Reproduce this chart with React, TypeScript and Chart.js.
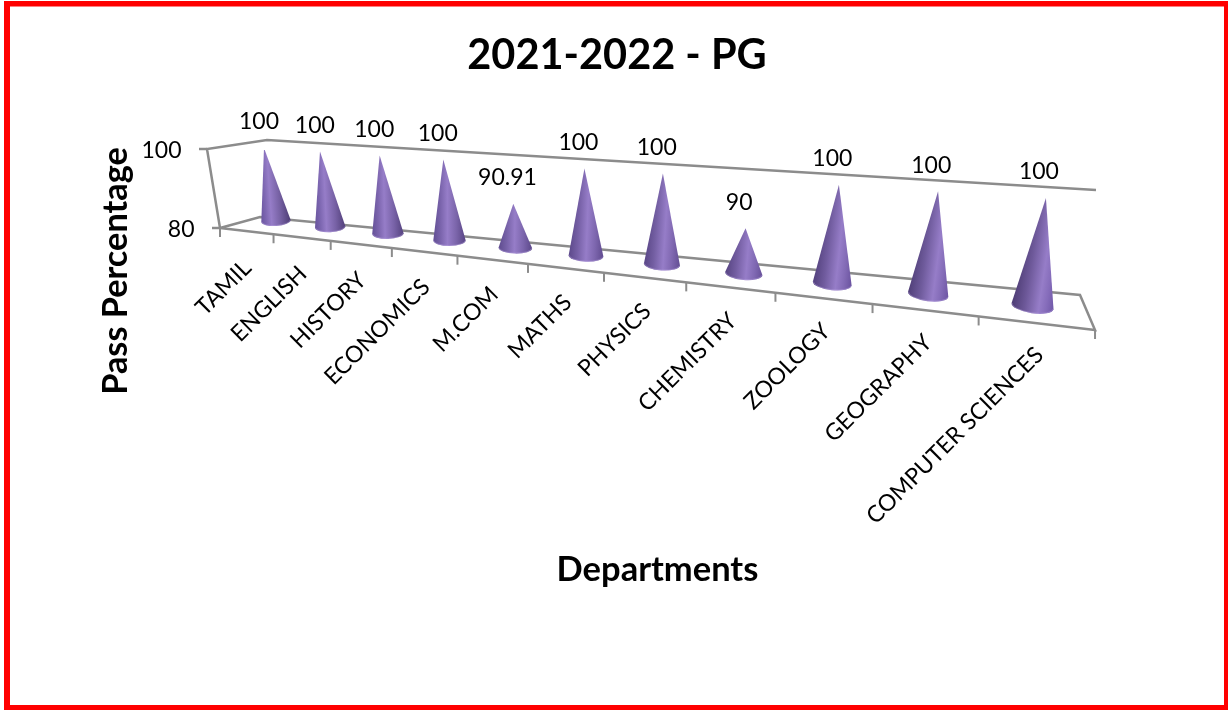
import React, { useEffect, useRef } from "react";
import { Chart, registerables, BarController, BarElement } from "chart.js";

const departments = ["TAMIL", "ENGLISH", "HISTORY", "ECONOMICS", "M.COM", "MATHS", "PHYSICS", "CHEMISTRY", "ZOOLOGY", "GEOGRAPHY", "COMPUTER SCIENCES"];
const passPercentage = [100, 100, 100, 100, 90.91, 100, 100, 90, 100, 100, 100];
const valueLabels = ["100", "100", "100", "100", "90.91", "100", "100", "90", "100", "100", "100"];
const yMin = 80;
const yMax = 100;
const yStep = 20;

const FONT = "Lato, 'Open Sans', sans-serif";
const GREY = "#8c8c8c";

// Perspective projection of the chart's logical plot onto the tilted 3D view.
const persp = (t: number) => 1 - 0.03057 * t;
const conePoint = (t: number, rawV: number) => {
  const v = rawV - 0.08 * rawV * (1 - rawV);
  const w = persp(t);
  const bx = (44.09 * t + 276) / w;
  const by = (-0.85 * t + 221) / w;
  const tx = (46.22 * t + 264) / w;
  const ty = (-1.05 * t + 148) / w;
  return { x: bx + (tx - bx) * v, y: by + (ty - by) * v };
};
const frontX = (e: number) => (44.88 * e + 220) / (1 - 0.03166 * e);
const frontY = (x: number) => 228 + (x - 220) * 0.1166;

const mix = (a: number[], b: number[], k: number) =>
  `rgb(${a.map((c, i) => Math.round(c + (b[i] - c) * k)).join(",")})`;

class ConeElement extends BarElement {
  static id = "cone";
  static defaults = { ...BarElement.defaults };
  draw(ctx: CanvasRenderingContext2D, area: any) {
    const self = this as any;
    const n = departments.length;
    const t = ((self.x - area.left) / area.width) * n - 0.5;
    const v = (area.bottom - self.y) / area.height;
    const w = persp(t);
    const base = conePoint(t, 0);
    const tip = conePoint(t, v);
    const rx = self.width / 2 / w;
    const ry = (self.width * 0.17) / w;
    const rot = -0.07 + 0.022 * t;
    const lx = base.x - rx * Math.cos(rot);
    const ly = base.y - rx * Math.sin(rot);
    const hx = base.x + rx * Math.cos(rot);
    const hy = base.y + rx * Math.sin(rot);
    const k = t / (n - 1);
    const peak = 0.35 + 0.3 * k;
    const light = [150, 125, 200];
    const leftEdge = [106, 85, 160].map((c, i) => c + ([77, 60, 116][i] - c) * k);
    const rightEdge = [77, 60, 116].map((c, i) => c + ([112, 88, 168][i] - c) * k);
    const g = ctx.createLinearGradient(lx, ly, hx, hy);
    g.addColorStop(0, mix(leftEdge, leftEdge, 0));
    g.addColorStop(peak * 0.5, mix(leftEdge, light, 0.45));
    g.addColorStop(peak, mix(light, light, 0));
    g.addColorStop((1 + peak) / 2, mix(rightEdge, light, 0.55));
    g.addColorStop(1, mix(rightEdge, rightEdge, 0));
    ctx.save();
    ctx.beginPath();
    ctx.moveTo(tip.x, tip.y);
    ctx.lineTo(lx, ly);
    ctx.ellipse(base.x, base.y, rx, ry, rot, Math.PI, 0, true);
    ctx.closePath();
    ctx.fillStyle = g;
    ctx.fill();
    ctx.beginPath();
    ctx.ellipse(base.x, base.y, rx - 0.5, ry - 0.5, rot, Math.PI, 0, true);
    ctx.strokeStyle = "rgba(190,170,230,0.4)";
    ctx.lineWidth = 1;
    ctx.stroke();
    ctx.restore();
  }
}

class ConeController extends BarController {
  static id = "cone";
  static defaults = { ...BarController.defaults, dataElementType: "cone" };
  draw() {
    const self = this as any;
    self._cachedMeta.data.forEach((el: any) => el.draw(self._ctx, self.chart.chartArea));
  }
}

const framePlugin = {
  id: "frame3d",
  beforeDraw(chart: any) {
    const { ctx, width, height } = chart;
    ctx.save();
    ctx.fillStyle = "#ffffff";
    ctx.fillRect(0, 0, width, height);
    ctx.fillStyle = "#ff0000";
    ctx.fillRect(4, 1, width - 4, 5.5);
    ctx.fillRect(4, 1, 6, height - 1);
    ctx.fillRect(width - 4, 1, 4, height - 1);
    ctx.fillRect(4, height - 5, width - 4, 5);
    ctx.restore();
  },
  beforeDatasetsDraw(chart: any) {
    const { ctx } = chart;
    const yScale = chart.scales.y;
    const xScale = chart.scales.x;
    const n = departments.length;
    const line = (pts: number[][]) => {
      ctx.beginPath();
      pts.forEach((p, i) => (i ? ctx.lineTo(p[0], p[1]) : ctx.moveTo(p[0], p[1])));
      ctx.stroke();
    };
    ctx.save();
    ctx.strokeStyle = GREY;
    ctx.lineWidth = 2.5;
    // walls and floor
    line([[220, 228], [207, 149], [267, 140], [1096, 190]]);
    line([[220, 228], [260, 217], [1080, 295], [1095, 330], [220, 228]]);
    // value axis ticks and labels
    ctx.fillStyle = "#000000";
    ctx.font = `23px ${FONT}`;
    ctx.textAlign = "right";
    ctx.textBaseline = "middle";
    yScale.ticks.forEach((tick: any) => {
      const v = (chart.chartArea.bottom - yScale.getPixelForValue(tick.value)) / chart.chartArea.height;
      const x = 220 - 13 * v;
      const y = 228 - 79 * v;
      line([[x - 8, y], [x, y]]);
      ctx.fillText(String(tick.value), x - 25.5, y + 1.5);
    });
    // category ticks
    ctx.lineWidth = 2;
    for (let e = 0; e <= n; e++) {
      const x = frontX(e);
      const y = frontY(x);
      line([[x, y], [x, y + 9]]);
    }
    // category labels
    xScale.getLabels().forEach((label: string, i: number) => {
      const e = ((xScale.getPixelForValue(i) - chart.chartArea.left) / chart.chartArea.width) * n;
      const x = frontX(e);
      const y = frontY(x);
      ctx.save();
      ctx.translate(x + 1 + 0.3 * i, y + 33 - 0.5 * i);
      ctx.rotate(-Math.PI / 4);
      ctx.textAlign = "right";
      ctx.textBaseline = "middle";
      ctx.fillText(label, 0, 0);
      ctx.restore();
    });
    ctx.restore();
  },
  afterDatasetsDraw(chart: any) {
    const { ctx } = chart;
    const n = departments.length;
    const area = chart.chartArea;
    const meta = chart.getDatasetMeta(0);
    ctx.save();
    ctx.fillStyle = "#000000";
    ctx.font = `23px ${FONT}`;
    ctx.textAlign = "center";
    ctx.textBaseline = "middle";
    meta.data.forEach((el: any, i: number) => {
      const t = ((el.x - area.left) / area.width) * n - 0.5;
      const v = (area.bottom - el.y) / area.height;
      const tip = conePoint(t, v);
      ctx.fillText(valueLabels[i], tip.x - 5 - 0.2 * t, tip.y - 26);
    });
    ctx.restore();
  },
};

Chart.register(...registerables, ConeElement as any, ConeController as any);

export default function App() {
  const ref = useRef<HTMLCanvasElement>(null);
  useEffect(() => {
    document.body.style.margin = "0";
    const chart = new Chart(ref.current as HTMLCanvasElement, {
      type: "cone" as any,
      data: {
        labels: departments,
        datasets: [
          {
            label: "Pass Percentage",
            data: passPercentage,
            backgroundColor: "#8064a2",
            categoryPercentage: 1,
            barPercentage: 0.377,
            xAxisID: "x",
            yAxisID: "y",
          } as any,
        ],
      },
      options: {
        animation: false,
        responsive: false,
        events: [],
        layout: { padding: { left: 6, right: 0, top: 0, bottom: 0 } },
        plugins: {
          legend: { display: false },
          tooltip: { enabled: false },
          title: {
            display: true,
            text: "2021-2022 - PG",
            color: "#000000",
            font: { family: FONT, size: 41.5, weight: "bold", lineHeight: 1.2 },
            padding: { top: 31, bottom: 69.2 },
          },
        },
        scales: {
          x: {
            type: "category",
            offset: true,
            grid: { display: false },
            border: { display: false },
            ticks: { display: false, autoSkip: false },
            title: {
              display: true,
              text: "Departments",
              color: "#000000",
              font: { family: FONT, size: 34.5, weight: "bold", lineHeight: 1.2 },
              padding: { top: 149, bottom: 119.6 },
            },
          },
          y: {
            type: "linear",
            min: yMin,
            max: yMax,
            grid: { display: false },
            border: { display: false },
            ticks: { display: false, stepSize: yStep },
            title: {
              display: true,
              text: "Pass Percentage",
              color: "#000000",
              font: { family: FONT, size: 34.3, weight: "bold", lineHeight: 1.2 },
              padding: { top: 89.6, bottom: 83.2 },
            },
          },
          yRight: {
            type: "linear",
            position: "right",
            min: yMin,
            max: yMax,
            grid: { display: false },
            border: { display: false },
            ticks: { display: false },
            afterFit: (scale: any) => {
              scale.width = 141;
            },
          },
        },
      },
      plugins: [framePlugin],
    } as any);
    return () => chart.destroy();
  }, []);
  return <canvas ref={ref} width={1228} height={710} style={{ display: "block" }} />;
}
